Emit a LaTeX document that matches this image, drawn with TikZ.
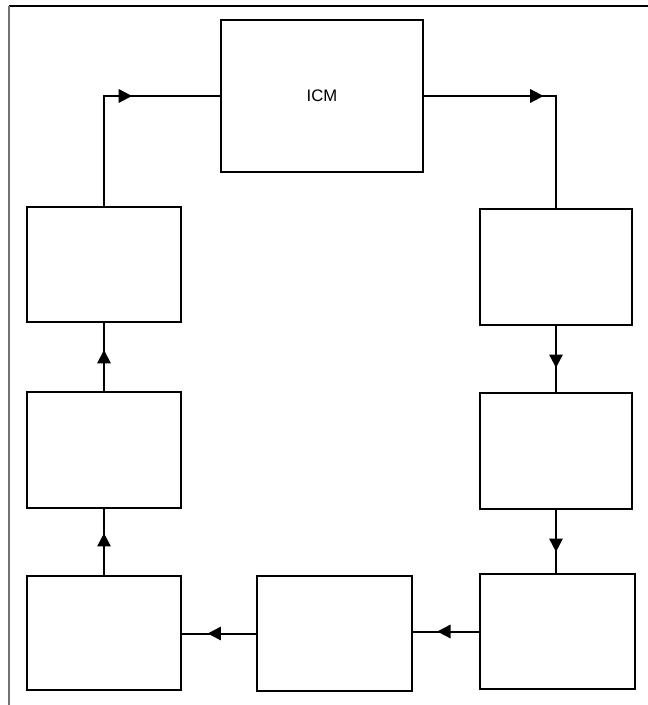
\documentclass[tikz,border=0pt]{standalone}
\usepackage{fontspec}
\setmainfont{Liberation Sans}
\usetikzlibrary{arrows.meta,decorations.markings}

\begin{document}
\begin{tikzpicture}[x=0.75pt,y=-0.75pt,
  blk/.style={draw,line width=1.5pt,inner sep=0pt,outer sep=0pt},
  icmbox/.style={draw,line width=0.8pt,inner sep=0pt,outer sep=0pt,font=\fontsize{12.5pt}{15pt}\selectfont},
  flow/.style={line width=1.5pt,postaction={decorate},
    decoration={markings,mark=at position #1 with {\arrow{Triangle[length=10pt,width=10pt]}}}},
  frameline/.style={line width=1.4pt}]

% page area
\useasboundingbox (0,0) rectangle (648,705);

% frame edges
\coordinate (fTL) at (9,6);
\coordinate (fTR) at (648,6);
\coordinate (fBL) at (9,705);
\draw[frameline,black] (fTL) -- (fTR);
\draw[frameline,black!55] (fTL) -- (fBL);

% \blkat{name}{x1}{y1}{x2}{y2}: a box given by its corners
\newcommand{\blkat}[6][]{%
  \pgfmathsetmacro{\cx}{(#3+#5)/2}\pgfmathsetmacro{\cy}{(#4+#6)/2}%
  \pgfmathsetmacro{\bw}{(#5-#3)*0.75}\pgfmathsetmacro{\bh}{(#6-#4)*0.75}%
  \node[blk,minimum width=\bw pt,minimum height=\bh pt,#1] (#2) at (\cx,\cy) {};}

% central unit
\node[icmbox,minimum width=151.5pt,minimum height=114pt] (ICM) at (322,96) {ICM};

% left column
\blkat{L1}{27}{207}{181}{322}
\blkat{L2}{27}{392}{181}{508}
\blkat{L3}{27}{576}{181}{690}
% right column
\blkat{R1}{480}{209}{632}{325}
\blkat{R2}{480}{393}{632}{509}
\blkat{R3}{480}{574}{635}{689}
% bottom middle
\blkat{M}{257}{576}{412}{691}

% connectors around the loop
\draw[flow=0.61] (L1.north) |- (ICM.west);
\draw[flow=0.49] (ICM.east) -| (R1.north);
\draw[flow=0.63] (R1.south) -- (R1.south |- R2.north);
\draw[flow=0.66] (R2.south) -- (R2.south |- R3.north);
\draw[flow=0.63] (R3.west) -- (R3.west -| M.east);
\draw[flow=0.65] (M.west) -- (M.west -| L3.east);
\draw[flow=0.63] (L3.north) -- (L3.north |- L2.south);
\draw[flow=0.6] (L2.north) -- (L2.north |- L1.south);
\end{tikzpicture}
\end{document}
